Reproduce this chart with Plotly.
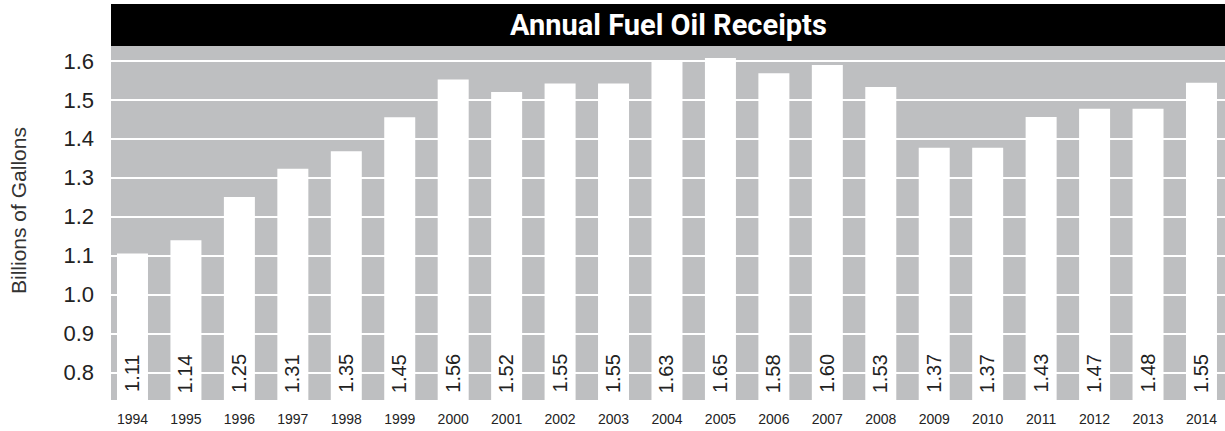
import plotly.graph_objects as go

years = [str(y) for y in range(1994, 2015)]
bar_values = [1.106, 1.140, 1.251, 1.323, 1.368, 1.455, 1.552, 1.520, 1.542, 1.542,
              1.599, 1.607, 1.568, 1.589, 1.533, 1.377, 1.377, 1.456, 1.477, 1.477, 1.544]
value_labels = ["1.11", "1.14", "1.25", "1.31", "1.35", "1.45", "1.56", "1.52", "1.55", "1.55",
                "1.63", "1.65", "1.58", "1.60", "1.53", "1.37", "1.37", "1.43", "1.47", "1.48", "1.55"]
y_ticks = [0.8, 0.9, 1.0, 1.1, 1.2, 1.3, 1.4, 1.5, 1.6]
title_text = "Annual Fuel Oil Receipts"
y_title = "Billions of Gallons"

W, H = 1225, 431
ml, mr, mt, mb = 111, 0, 46, 31
plot_h = H - mt - mb

fig = go.Figure()
fig.add_trace(go.Bar(
    x=years, y=bar_values, width=0.58,
    marker=dict(color="white", line=dict(width=0)),
    hoverinfo="skip",
))

annotations = []
for i, lab in enumerate(value_labels):
    annotations.append(dict(
        x=i, y=0.798, xref="x", yref="y", text=lab, showarrow=False,
        textangle=-90, xanchor="center", yanchor="middle",
        font=dict(family="Liberation Sans, Arial, sans-serif", size=20, color="#222222"),
    ))

annotations.append(dict(
    x=0.5, xref="paper", y=1 + 21 / plot_h, yref="paper", text="<b>" + title_text + "</b>",
    showarrow=False, xanchor="center", yanchor="middle",
    font=dict(family="Roboto, sans-serif", size=29, color="white"),
))
annotations.append(dict(
    x=(18 - ml) / (W - ml - mr), xref="paper", y=(H - mb - 211) / plot_h, yref="paper",
    text=y_title, showarrow=False, textangle=-90, xanchor="center", yanchor="middle",
    font=dict(family="Liberation Sans, Arial, sans-serif", size=21, color="#333333"),
))

fig.update_layout(
    width=W, height=H,
    margin=dict(l=ml, r=mr, t=mt, b=mb, pad=0),
    paper_bgcolor="white", plot_bgcolor="#bebfc1",
    showlegend=False, bargap=0.42,
    annotations=annotations,
    shapes=[dict(type="rect", xref="paper", yref="paper", x0=0, x1=1,
                 y0=1, y1=1 + 42 / plot_h, fillcolor="black", line=dict(width=0), layer="below")],
)
fig.update_xaxes(
    type="category", range=[-0.402, 20.44], showgrid=False, zeroline=False,
    showline=False, ticks="",
    tickfont=dict(family="Liberation Sans, Arial, sans-serif", size=14, color="#222222"),
    ticklabelstandoff=9,
)
fig.update_yaxes(
    range=[0.730, 1.638], tickvals=y_ticks, tickformat=".1f",
    showgrid=True, gridcolor="white", gridwidth=2, zeroline=False, showline=False,
    ticks="", ticklabelstandoff=16,
    tickfont=dict(family="Liberation Sans, Arial, sans-serif", size=22, color="#222222"),
)

fig.write_html("out.html", config={"displayModeBar": False},
               post_script="document.body.style.margin='0';")
